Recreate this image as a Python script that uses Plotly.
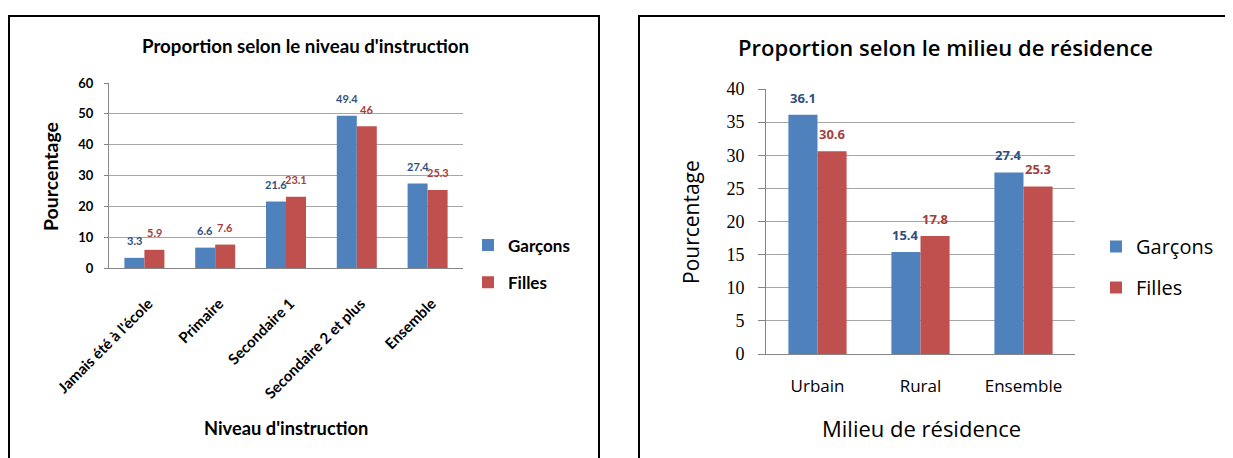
import plotly.graph_objects as go

# page body has an 8px margin; figure sized to fill the rest of the 1233x458 window
OFF = 8
W, H = 1233 - OFF, 458 - OFF

# ---- data ----
niveaux = ["Jamais été à l'école", "Primaire", "Secondaire 1", "Secondaire 2 et plus", "Ensemble"]
niv_garcons = [3.3, 6.6, 21.6, 49.4, 27.4]
niv_filles = [5.9, 7.6, 23.1, 46, 25.3]

milieux = ["Urbain", "Rural", "Ensemble"]
mil_garcons = [36.1, 15.4, 27.4]
mil_filles = [30.6, 17.8, 25.3]

series_names = ["Garçons", "Filles"]
bar_colors = ["#4F81BD", "#C0504D"]
label_colors = ["#2F4F7F", "#A33E3B"]

# ---- layout geometry (window pixels) ----
L_x0, L_x1, L_y0, L_y1 = 109, 463, 268, 83
R_x0, R_x1, R_y0, R_y1 = 766, 1075, 354, 89
BARGAP = 0.435


def px(x):
    return (x - OFF) / W


def py(y):
    return 1 - (y - OFF) / H


FL = "Lato"
FR = "Open Sans"
fig = go.Figure()

# left chart bars
for i, (name, vals) in enumerate(zip(series_names, [niv_garcons, niv_filles])):
    fig.add_trace(go.Bar(x=niveaux, y=vals, name=name, marker_color=bar_colors[i],
                         marker_line_width=0, xaxis="x", yaxis="y",
                         legend="legend", legendgroup="l" + name))
# right chart bars
for i, (name, vals) in enumerate(zip(series_names, [mil_garcons, mil_filles])):
    fig.add_trace(go.Bar(x=milieux, y=vals, name=name, marker_color=bar_colors[i],
                         marker_line_width=0, xaxis="x2", yaxis="y2",
                         legend="legend2", legendgroup="r" + name))

annotations = []
# data labels
for cats, sets, x0, x1, xr, yr, fam, fs in [
    (niveaux, [niv_garcons, niv_filles], L_x0, L_x1, "x", "y", FL, 11),
    (milieux, [mil_garcons, mil_filles], R_x0, R_x1, "x2", "y2", FR, 13),
]:
    bw = (x1 - x0) / len(cats) * (1 - BARGAP) / 2
    for i, vals in enumerate(sets):
        shift = (i - 0.5) * bw
        for c, v in zip(cats, vals):
            annotations.append(dict(x=c, y=v, xref=xr, yref=yr, text=f"{v:g}",
                                    showarrow=False, xshift=shift, yshift=17,
                                    xanchor="center", yanchor="middle",
                                    font=dict(family=fam, size=fs, color=label_colors[i],
                                              weight="bold")))


def title(x, y, text, fam, size, weight="normal", angle=0):
    return dict(x=px(x), y=py(y), xref="paper", yref="paper", showarrow=False,
                xanchor="center", yanchor="middle", text=text, textangle=angle,
                font=dict(family=fam, size=size, color="black", weight=weight))


annotations += [
    title(305, 46, "Proportion selon le niveau d'instruction", FL, 18.7, "bold"),
    title(50, 177, "Pourcentage", FL, 19.5, "bold", -90),
    title(286, 428, "Niveau d'instruction", FL, 18.3, "bold"),
    title(945, 47, "Proportion selon le milieu de résidence", FR, 22, 600),
    title(691, 222, "Pourcentage", FR, 21, "normal", -90),
    title(921, 428, "Milieu de résidence", FR, 22, "normal"),
]

shapes = [
    dict(type="rect", xref="paper", yref="paper", x0=px(9), x1=px(599), y0=-0.2, y1=py(16),
         line=dict(color="black", width=2), layer="below"),
    dict(type="rect", xref="paper", yref="paper", x0=px(639), x1=1.1, y0=-0.2, y1=py(16),
         line=dict(color="black", width=2), layer="below"),
]

axis_common = dict(showline=True, linecolor="#868686", linewidth=1, zeroline=False,
                   automargin=False)

fig.update_layout(
    width=W, height=H, autosize=False,
    margin=dict(l=0, r=0, t=0, b=0, autoexpand=False),
    paper_bgcolor="white", plot_bgcolor="white",
    barmode="group", bargap=BARGAP, bargroupgap=0,
    font=dict(family=FL, color="black"),
    xaxis=dict(domain=[px(L_x0), px(L_x1)], anchor="y", tickangle=-45,
               tickfont=dict(family=FL, size=15, color="black", weight="bold"),
               ticks="", ticklabelstandoff=20, ticklabelshift=4, **axis_common),
    yaxis=dict(domain=[py(L_y0), py(L_y1)], anchor="x", range=[0, 60], dtick=10,
               showgrid=True, gridcolor="#A6A6A6", gridwidth=1,
               ticks="outside", ticklen=4, tickcolor="#868686",
               tickfont=dict(family=FL, size=13, color="black", weight="bold"),
               ticklabelstandoff=8, **axis_common),
    xaxis2=dict(domain=[px(R_x0), px(R_x1)], anchor="y2",
                tickfont=dict(family=FR, size=17, color="black"),
                ticks="", ticklabelstandoff=17, **axis_common),
    yaxis2=dict(domain=[py(R_y0), py(R_y1)], anchor="x2", range=[0, 40], dtick=5,
                showgrid=True, gridcolor="#A6A6A6", gridwidth=1,
                ticks="outside", ticklen=7, tickcolor="#868686",
                tickfont=dict(family="Liberation Serif", size=18, color="black"),
                ticklabelstandoff=10, **axis_common),
    legend=dict(x=px(468), y=py(264), xanchor="left", yanchor="middle",
                font=dict(family=FL, size=17, color="black", weight="bold"),
                traceorder="grouped", tracegroupgap=12, bgcolor="rgba(0,0,0,0)"),
    legend2=dict(x=px(1096), y=py(267), xanchor="left", yanchor="middle",
                 font=dict(family=FR, size=20, color="black"),
                 traceorder="grouped", tracegroupgap=12, bgcolor="rgba(0,0,0,0)"),
    annotations=annotations,
    shapes=shapes,
)

fig.write_html("out.html")
